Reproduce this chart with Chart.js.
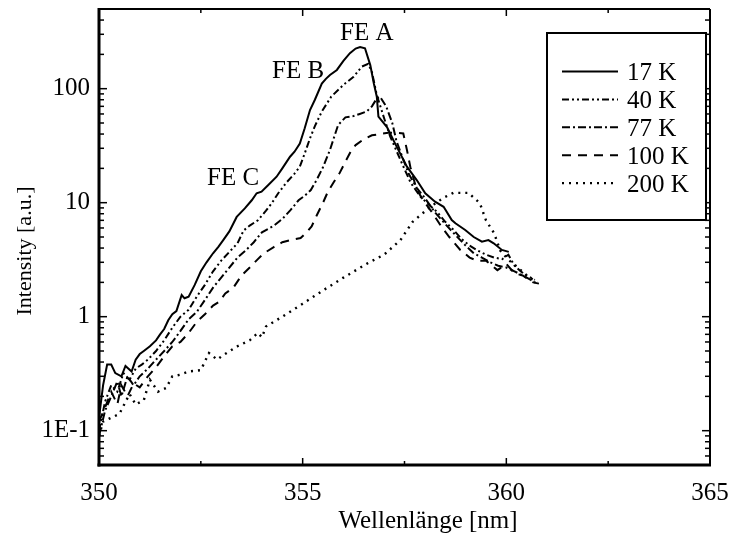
<!DOCTYPE html>
<html>
<head>
<meta charset="utf-8">
<script src="https://cdn.jsdelivr.net/npm/chart.js@4.4.1/dist/chart.umd.min.js"></script>
<style>
  html,body{margin:0;padding:0;background:#fff;}
  #wrap{width:732px;height:541px;position:relative;}
</style>
</head>
<body>
<div id="wrap"><canvas id="c" width="732" height="541"></canvas></div>
<script>
// ---------- data ----------
const seriesNames = ['17 K', '40 K', '77 K', '100 K', '200 K'];

const wl17  = [350.0,350.1,350.2,350.3,350.4,350.55,350.65,350.8,350.9,351.0,351.1,351.25,351.4,351.5,351.6,351.7,351.8,351.9,352.03,352.1,352.2,352.35,352.5,352.64,352.8,352.93,353.05,353.2,353.38,353.58,353.75,353.87,353.99,354.15,354.36,354.5,354.69,354.8,354.93,355.05,355.18,355.3,355.47,355.57,355.67,355.84,356.0,356.16,356.3,356.41,356.53,356.66,356.75,356.82,356.86,357.07,357.27,357.56,357.8,358.01,358.25,358.46,358.66,358.75,358.99,359.2,359.4,359.56,359.69,359.89,360.06];
const int17 = [0.13,0.25,0.38,0.38,0.32,0.30,0.37,0.33,0.42,0.47,0.50,0.55,0.62,0.70,0.78,0.93,1.05,1.12,1.55,1.45,1.5,1.9,2.5,3.0,3.6,4.1,4.7,5.6,7.5,8.9,10.5,12.1,12.5,14.2,16.9,20,25.3,28,33,45,65,80,111,122,132,146,175,205,225,232,226,161,110,85,57,46,33,20.7,15.8,12.1,10.2,9.2,7.05,6.6,5.76,5.0,4.55,4.7,4.4,3.85,3.7];

const wl40  = [350.0,350.15,350.3,350.45,350.6,350.75,350.9,351.05,351.2,351.4,351.6,351.8,352.0,352.2,352.4,352.6,352.8,353.0,353.2,353.4,353.55,353.7,353.9,354.1,354.25,354.4,354.6,354.8,354.93,355.05,355.18,355.3,355.47,355.7,356.0,356.25,356.45,356.61,356.7,356.82,357.0,357.15,357.44,357.65,357.89,358.1,358.3,358.5,358.7,358.9,359.1,359.3,359.5,359.7,359.9,360.05,360.2,360.35,360.5,360.7];
const int40 = [0.10,0.18,0.25,0.22,0.32,0.28,0.35,0.38,0.42,0.5,0.62,0.8,1.0,1.15,1.5,1.9,2.5,3.1,3.7,4.4,5.7,6.3,7.0,8.5,10,12.1,15,18,20.7,27,36.7,47,63,85,108,127,156,165,140,88,55,38,22,15,11.3,9.6,8.3,6.8,5.8,4.8,4.2,3.8,3.5,3.3,3.2,3.5,2.8,2.5,2.3,2.1];

const wl77  = [350.0,350.15,350.3,350.45,350.55,350.7,350.85,351.0,351.2,351.4,351.6,351.8,352.0,352.2,352.4,352.6,352.8,353.0,353.2,353.4,353.6,353.8,354.0,354.3,354.5,354.7,354.9,355.05,355.2,355.35,355.5,355.67,355.87,356.05,356.25,356.4,356.57,356.7,356.82,356.9,357.05,357.2,357.3,357.45,357.6,357.8,358.0,358.25,358.5,358.75,359.0,359.2,359.4,359.6,359.8,360.0,360.2,360.4,360.6,360.75];
const int77 = [0.09,0.15,0.2,0.27,0.2,0.3,0.25,0.3,0.35,0.42,0.5,0.6,0.75,0.95,1.1,1.4,1.8,2.2,2.7,3.3,3.8,4.5,5.5,6.3,7.2,8.6,10.5,11.5,12.9,16,20.5,29,48,56,57.6,60,63,70,82,85,70,50,35,25,18,13.5,11,8.2,6.5,5.2,4.2,3.6,3.3,3.0,2.8,2.7,2.5,2.3,2.1,1.95];

const wl100  = [350.0,350.15,350.3,350.45,350.55,350.7,350.85,351.0,351.2,351.4,351.6,351.8,352.0,352.2,352.4,352.6,352.8,352.95,353.1,353.3,353.5,353.7,353.9,354.05,354.3,354.5,354.7,354.95,355.1,355.22,355.35,355.5,355.62,355.75,355.9,356.07,356.2,356.3,356.5,356.7,356.9,357.1,357.3,357.47,357.56,357.65,357.8,358.0,358.2,358.4,358.6,358.87,359.1,359.28,359.5,359.78,360.0,360.2,360.4,360.66,360.8];
const int100 = [0.12,0.16,0.22,0.17,0.25,0.2,0.26,0.24,0.3,0.36,0.45,0.55,0.6,0.72,0.9,1.05,1.25,1.35,1.6,1.8,2.3,2.7,3.2,3.6,4.1,4.5,4.7,4.9,5.5,6.2,7.8,10,12.5,14.9,18,23.7,29,32,36,39,40,41,41,40.5,29,20,13,10,8,6.2,5.0,3.85,3.3,3.1,3.1,2.56,2.9,2.4,2.3,2.0,1.95];

const wl200  = [350.0,350.1,350.3,350.5,350.75,350.9,351.1,351.25,351.45,351.65,351.8,352.0,352.2,352.5,352.7,352.9,353.05,353.4,353.7,353.9,354.0,354.1,354.5,355.0,355.5,356.0,356.6,357.0,357.4,357.7,358.1,358.45,358.7,359.07,359.35,359.5,359.7,359.85,360.05,360.26,360.5,360.75];
const int200 = [0.09,0.12,0.13,0.14,0.21,0.17,0.185,0.28,0.22,0.237,0.30,0.31,0.33,0.34,0.48,0.42,0.46,0.55,0.62,0.72,0.66,0.82,1.0,1.3,1.7,2.2,2.95,3.5,4.7,6.8,9.0,11,12.2,12.2,9.9,7.0,5.4,3.8,3.15,2.75,2.3,2.0];

const xTickValues = [350, 355, 360, 365];
const xTickLabels = ['350', '355', '360', '365'];
const yTickValues = [0.1, 1, 10, 100];
const yTickLabels = ['1E-1', '1', '10', '100'];

const peakLabels = ['FE A', 'FE B', 'FE C'];

// ---------- styles ----------
const FONT = '"Liberation Serif", "Times New Roman", serif';
const dashes = [[], [7, 3, 2, 3, 2, 3], [8, 3, 2, 3], [9, 7], [2, 5]];
const widths = [2, 2, 2, 2, 2.4];

function zip(xs, ys) {
  const n = Math.min(xs.length, ys.length);
  const out = [];
  for (let i = 0; i < n; i++) out.push({ x: xs[i], y: ys[i] });
  return out;
}
const allX = [wl17, wl40, wl77, wl100, wl200];
const allY = [int17, int40, int77, int100, int200];

const datasets = seriesNames.map((name, i) => ({
  label: name,
  data: zip(allX[i], allY[i]),
  borderColor: '#000',
  borderWidth: widths[i],
  borderDash: dashes[i],
  pointRadius: 0,
  fill: false,
  tension: 0
}));

function line(ctx, x1, y1, x2, y2) {
  ctx.beginPath(); ctx.moveTo(x1, y1); ctx.lineTo(x2, y2); ctx.stroke();
}
function zeroPad(s) { s.paddingTop = 0; s.paddingBottom = 0; s.paddingLeft = 0; s.paddingRight = 0; }

const framePlugin = {
  id: 'frame',
  afterDraw(chart) {
    const { ctx, chartArea: a, scales } = chart;
    const x = scales.x, y = scales.y;
    ctx.save();
    ctx.strokeStyle = '#000';
    ctx.setLineDash([]);
    // inward ticks x
    ctx.lineWidth = 1.5;
    for (let v = 350; v <= 365 + 1e-9; v += 2.5) {
      const px = x.getPixelForValue(v);
      const len = (Math.abs(v % 5) < 1e-9) ? 7 : 4;
      line(ctx, px, a.bottom, px, a.bottom - len);
      line(ctx, px, a.top, px, a.top + len);
    }
    // inward ticks y (log)
    for (let e = -2; e <= 2; e++) {
      for (let k = 1; k <= 9; k++) {
        const v = k * Math.pow(10, e);
        if (v < 0.05 - 1e-9 || v > 500 + 1e-9) continue;
        const py = y.getPixelForValue(v);
        const len = k === 1 ? 8 : 5;
        line(ctx, a.left, py, a.left + len, py);
        line(ctx, a.right, py, a.right - len, py);
      }
    }
    // borders
    ctx.lineWidth = 2;
    line(ctx, a.left, a.top, a.right, a.top);
    line(ctx, a.right, a.top, a.right, a.bottom);
    ctx.lineWidth = 3;
    line(ctx, a.left, a.top - 1, a.left, a.bottom + 1.5);
    line(ctx, a.left - 1.5, a.bottom, a.right + 1, a.bottom);

    // axis titles
    ctx.fillStyle = '#000';
    ctx.font = '25px ' + FONT;
    ctx.textAlign = 'center';
    ctx.textBaseline = 'alphabetic';
    ctx.fillText('Wellenlänge [nm]', 428, 528);
    ctx.save();
    ctx.translate(31, 251);
    ctx.rotate(-Math.PI / 2);
    ctx.font = '22px ' + FONT;
    ctx.textBaseline = 'alphabetic';
    ctx.fillText('Intensity [a.u.]', 0, 0);
    ctx.restore();

    // peak labels
    ctx.font = '25px ' + FONT;
    ctx.textAlign = 'left';
    ctx.textBaseline = 'alphabetic';
    ctx.fillText(peakLabels[0], 340, 40);
    ctx.fillText(peakLabels[1], 272, 78);
    ctx.fillText(peakLabels[2], 207, 185);

    // legend
    ctx.fillStyle = '#fff';
    ctx.fillRect(547, 33, 159, 187);
    ctx.lineWidth = 2;
    ctx.strokeRect(547, 33, 159, 187);
    ctx.fillStyle = '#000';
    ctx.font = '25px ' + FONT;
    for (let i = 0; i < seriesNames.length; i++) {
      const ry = 71.5 + i * 27.9;
      ctx.lineWidth = widths[i];
      ctx.setLineDash(dashes[i]);
      line(ctx, 562, ry, 618, ry);
      ctx.setLineDash([]);
      ctx.fillText(seriesNames[i], 627, ry + 8.5);
    }
    ctx.restore();
  }
};

function build() {
  new Chart(document.getElementById('c'), {
    type: 'line',
    data: { datasets },
    options: {
      responsive: false,
      animation: false,
      events: [],
      layout: { padding: { left: 0, right: 22, top: 9, bottom: 0 } },
      plugins: { legend: { display: false }, tooltip: { enabled: false } },
      scales: {
        x: {
          type: 'linear', min: 350, max: 365,
          afterBuildTicks: s => { s.ticks = xTickValues.map(v => ({ value: v })); },
          afterFit: s => { s.height = 76; zeroPad(s); },
          ticks: {
            autoSkip: false, maxRotation: 0, padding: 13, color: '#000',
            font: { family: FONT, size: 25 },
            callback: (v, i) => xTickLabels[i]
          },
          grid: { display: false, drawTicks: false },
          border: { display: false }
        },
        y: {
          type: 'logarithmic', min: 0.05, max: 500,
          afterBuildTicks: s => { s.ticks = yTickValues.map(v => ({ value: v })); },
          afterFit: s => { s.width = 99; zeroPad(s); },
          ticks: {
            autoSkip: false, padding: 9, color: '#000',
            font: { family: FONT, size: 25 },
            callback: (v, i) => yTickLabels[i]
          },
          grid: { display: false, drawTicks: false },
          border: { display: false }
        }
      }
    },
    plugins: [framePlugin]
  });
}

if (document.fonts && document.fonts.load) {
  Promise.all([document.fonts.load('25px "Liberation Serif"'), document.fonts.load('22px "Liberation Serif"')])
    .then(build, build);
} else { build(); }
</script>
</body>
</html>
